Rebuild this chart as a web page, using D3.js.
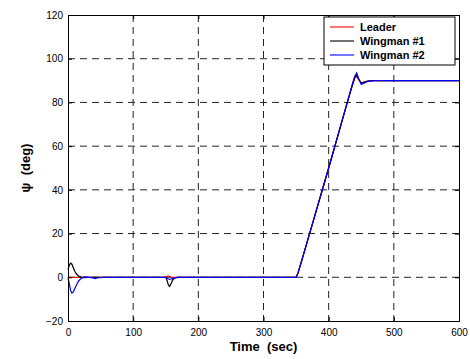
<!DOCTYPE html>
<html>
<head>
<meta charset="utf-8">
<script src="https://cdn.jsdelivr.net/npm/d3@7"></script>
<style>
  html, body { margin: 0; padding: 0; background: #fff; }
  svg { display: block; font-family: "Liberation Sans", Arial, sans-serif; }
  .title { white-space: pre; }
</style>
</head>
<body>
<svg id="chart" width="470" height="359"></svg>
<script>
// Heading response of the formation: leader and two wingmen
const time = [0, 2, 4, 6, 8, 10, 13, 16, 20, 25, 30, 38, 42, 46, 55,
  150, 152, 154, 156, 158, 161, 165, 170,
  350, 353, 356, 360, 380, 400, 420, 430, 436, 440, 443, 446, 450, 454, 460, 470, 600];
const leader = [0, 0, 0, 0, 0, 0, 0, 0, 0, 0, 0, 0, 0, 0, 0,
  0, 0.4, 0.5, 0.3, 0.1, 0, 0, 0,
  0, 2, 5, 9, 29.5, 50, 71, 81.5, 87.5, 91, 92, 90.5, 89, 89.3, 89.8, 90, 90];
const wingman1 = [3.5, 5.5, 6.5, 6, 4.5, 3, 1.5, 0.6, 0.1, -0.2, 0, 0, 0, 0, 0,
  0, -1.5, -3.5, -4.2, -3, -1, -0.2, 0,
  0, 2, 5, 9, 29.5, 50, 71, 81.5, 87.5, 91.5, 92.5, 90.5, 88.8, 89.2, 89.8, 90, 90];
const wingman2 = [0, -3, -6, -7.2, -6.8, -5.5, -3.5, -1.8, -0.5, 0.2, 0.1, -0.3, -0.6, -0.2, 0,
  0, -0.4, -0.8, -1, -0.8, -0.5, -0.2, 0,
  0, 2, 5, 9, 29.5, 50, 71, 81.5, 88, 92, 93.5, 91, 88.2, 88.8, 89.6, 90, 90];

const xTicks = [0, 100, 200, 300, 400, 500, 600];
const yTicks = [-20, 0, 20, 40, 60, 80, 100, 120];
const seriesNames = ["Leader", "Wingman #1", "Wingman #2"];
const seriesColors = ["#ff0000", "#000000", "#0000ff"];

const plotL = 68, plotR = 459, plotT = 15, plotB = 321;
const svg = d3.select("#chart");
const x = d3.scaleLinear().domain([0, 600]).range([plotL, plotR]);
const y = d3.scaleLinear().domain([-20, 120]).range([plotB, plotT]);

// dashed grid
const grid = svg.append("g").attr("stroke", "#222").attr("stroke-width", 1)
  .attr("stroke-dasharray", "7,5");
xTicks.slice(1, -1).forEach(t => grid.append("line")
  .attr("x1", x(t)).attr("x2", x(t)).attr("y1", plotT).attr("y2", plotB));
yTicks.slice(1, -1).forEach(t => grid.append("line")
  .attr("x1", plotL).attr("x2", plotR).attr("y1", y(t)).attr("y2", y(t)));

// data lines
const line = ys => d3.line().x((d, i) => x(time[i])).y((d, i) => y(ys[i]))(ys);
[leader, wingman1, wingman2].forEach((ys, k) => {
  svg.append("path").attr("d", line(ys)).attr("fill", "none")
    .attr("stroke", seriesColors[k]).attr("stroke-width", 1.2);
});

// axes with inward ticks on all sides
const ax = svg.append("g").attr("font-size", 11);
ax.append("g").attr("transform", `translate(0,${plotB})`)
  .call(d3.axisBottom(x).tickValues(xTicks).tickSize(-4).tickPadding(8));
ax.append("g").attr("transform", `translate(${plotL},0)`)
  .call(d3.axisLeft(y).tickValues(yTicks).tickSize(-4).tickPadding(5));
ax.append("g").attr("transform", `translate(0,${plotT})`)
  .call(d3.axisTop(x).tickValues(xTicks).tickSize(-4).tickFormat(""));
ax.append("g").attr("transform", `translate(${plotR},0)`)
  .call(d3.axisRight(y).tickValues(yTicks).tickSize(-4).tickFormat(""));
ax.selectAll(".domain").attr("stroke", "#000");
ax.selectAll("text").attr("fill", "#000").attr("font-family", "Liberation Sans, Arial, sans-serif");

// axis titles
svg.append("text").attr("class", "title").attr("x", (plotL + plotR) / 2).attr("y", 351)
  .attr("text-anchor", "middle").attr("font-size", 13).attr("font-weight", "bold")
  .text("Time  (sec)");
svg.append("text").attr("class", "title")
  .attr("transform", `translate(30,${(plotT + plotB) / 2}) rotate(-90)`)
  .attr("text-anchor", "middle").attr("font-size", 13).attr("font-weight", "bold")
  .text("ψ  (deg)");

// legend
const lg = svg.append("g").attr("transform", "translate(324,17)");
lg.append("rect").attr("width", 131).attr("height", 48)
  .attr("fill", "#fff").attr("stroke", "#000").attr("stroke-width", 1);
seriesNames.forEach((n, k) => {
  const yy = 10 + k * 14;
  lg.append("line").attr("x1", 6).attr("x2", 30).attr("y1", yy).attr("y2", yy)
    .attr("stroke", seriesColors[k]).attr("stroke-width", 1.1);
  lg.append("text").attr("x", 36).attr("y", yy + 4).attr("font-size", 11)
    .attr("font-weight", "bold").text(n);
});
</script>
</body>
</html>
